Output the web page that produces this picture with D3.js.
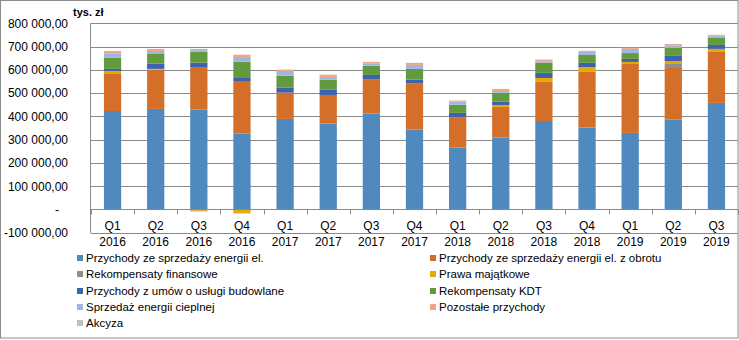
<!DOCTYPE html>
<html><head><meta charset="utf-8">
<script src="https://cdn.jsdelivr.net/npm/d3@7/dist/d3.min.js"></script>
<style>
body{margin:0;background:#fff;}
svg{display:block;font-family:"Liberation Sans",Arial,sans-serif;}
</style></head>
<body><svg id="c" width="739" height="340"></svg>
<script>
const quarters = ["Q1","Q2","Q3","Q4","Q1","Q2","Q3","Q4","Q1","Q2","Q3","Q4","Q1","Q2","Q3"];
const years = ["2016","2016","2016","2016","2017","2017","2017","2017","2018","2018","2018","2018","2019","2019","2019"];
const seriesNames = ["Przychody ze sprzedaży energii el.","Przychody ze sprzedaży energii el. z obrotu","Rekompensaty finansowe","Prawa majątkowe","Przychody z umów o usługi budowlane","Rekompensaty KDT","Sprzedaż energii cieplnej","Pozostałe przychody","Akcyza"];
const energia   = [423000,432000,429000,326000,389000,369000,412000,343000,266000,309000,380000,352000,329000,386000,458000];
const obrot     = [159000,169000,183000,226000,113000,123000,146000,198000,129000,131000,168000,239000,296000,222000,219000];
const finansowe = [0,0,0,0,0,0,0,0,0,0,0,0,0,17000,3000];
const prawa     = [13000,3000,-6000,-15000,0,0,0,0,0,9000,17000,21000,9000,13000,10000];
const budowlane = [9000,23000,19000,13000,21000,22000,20000,17000,20000,14000,22000,18000,13000,22000,17000];
const kdt       = [47000,41000,46000,70000,52000,43000,40000,46000,35000,38000,44000,34000,25000,34000,30000];
const cieplo    = [20000,13000,8000,20000,20000,12000,10000,17000,13000,8000,6000,13000,18000,10000,10000];
const pozostale = [10000,9000,5000,10000,6000,10000,6000,9000,5000,9000,7000,5000,5000,7000,4000];
const akcyza    = [-3000,-3000,-3000,-3000,-3000,-3000,-3000,-3000,-3000,-3000,-3000,-3000,-3000,-3000,-3000];
const yTicks = [-100000,0,100000,200000,300000,400000,500000,600000,700000,800000];
const colors = ["#4f89bd","#d46f2a","#8e8e8e","#e5aa00","#3e62ad","#629a3d","#9bb9df","#f0a58a","#bfbfbf"];

const valuesList = [energia,obrot,finansowe,prawa,budowlane,kdt,cieplo,pozostale,akcyza];
const keys = seriesNames;
const rows = quarters.map((q,i)=>{const r={idx:i}; keys.forEach((k,j)=>r[k]=valuesList[j][i]); return r;});

const svg = d3.select("#c");
const pL = 91, pR = 738, pT = 23.3, pB = 232.7;
const x = d3.scaleBand().domain(d3.range(quarters.length)).range([pL,pR]).padding(0);
const y = d3.scaleLinear().domain([-100000,800000]).range([pB,pT]);
const color = d3.scaleOrdinal().domain(keys).range(colors);

// border
svg.append("rect").attr("x",0.5).attr("y",0.5).attr("width",737.5).attr("height",337.5)
  .attr("fill","none").attr("stroke","#8c8c8c");

// gridlines
svg.append("g").selectAll("line").data(yTicks).join("line")
  .attr("x1",pL).attr("x2",pR).attr("y1",d=>Math.round(y(d))+0.5).attr("y2",d=>Math.round(y(d))+0.5)
  .attr("stroke","#8a8a8a").attr("stroke-width",1);

// y axis line
svg.append("line").attr("x1",pL-0.5).attr("x2",pL-0.5).attr("y1",pT).attr("y2",pB+0.5)
  .attr("stroke","#8a8a8a");

// y labels
const loc = d3.formatLocale({decimal:",",thousands:"\u00a0",grouping:[3],currency:["",""],minus:"-"});
const fmt = loc.format(",.2f");
const yAxis = d3.axisLeft(y).tickValues(yTicks).tickSize(0).tickPadding(0)
  .tickFormat(d=> d===0 ? "-" : fmt(d));
const yg = svg.append("g").attr("transform",`translate(68,0)`).call(yAxis);
yg.select(".domain").remove();
yg.selectAll("text").attr("font-size","12px").attr("fill","#000")
  .attr("font-family","'Liberation Sans',Arial,sans-serif")
  .attr("dx",d=>d===0?-9:0);

svg.append("text").attr("x",73).attr("y",16).attr("font-size","11px").attr("font-weight","bold").text("tys. zł");

// stacked bars
const stack = d3.stack().keys(keys).offset(d3.stackOffsetDiverging);
const series = stack(rows);
const bw = x.bandwidth()*0.4;
svg.append("g").selectAll("g").data(series).join("g").attr("fill",d=>color(d.key))
  .selectAll("rect").data(d=>d).join("rect")
  .attr("x",(d,i)=>x(i)+x.bandwidth()/2-bw/2)
  .attr("width",bw)
  .attr("y",d=>y(Math.max(d[0],d[1])))
  .attr("height",d=>Math.abs(y(d[0])-y(d[1])));

// category axis at zero
const y0 = Math.round(y(0))+0.5;
svg.append("line").attr("x1",pL).attr("x2",pR).attr("y1",y0).attr("y2",y0).attr("stroke","#8a8a8a");
const xg = svg.append("g");
xg.selectAll("line").data(d3.range(quarters.length+1)).join("line")
  .attr("x1",i=>Math.round(pL + i*x.step())+0.5).attr("x2",i=>Math.round(pL + i*x.step())+0.5)
  .attr("y1",y0).attr("y2",y0+5).attr("stroke","#8a8a8a");
xg.selectAll("text.q").data(quarters).join("text").attr("class","q")
  .attr("x",(d,i)=>x(i)+x.bandwidth()/2).attr("y",230).attr("text-anchor","middle")
  .attr("font-size","12px").text(d=>d);
xg.selectAll("text.yr").data(years).join("text").attr("class","yr")
  .attr("x",(d,i)=>x(i)+x.bandwidth()/2).attr("y",246).attr("text-anchor","middle")
  .attr("font-size","12px").text(d=>d);

// legend
const legendPos = [[77,258],[430,258],[77,274],[430,274],[77,291],[430,291],[77,307],[430,307],[77,323]];
const lg = svg.append("g").selectAll("g").data(keys).join("g")
  .attr("transform",(d,i)=>`translate(${legendPos[i][0]},${legendPos[i][1]})`);
lg.append("rect").attr("x",0).attr("y",-3).attr("width",6).attr("height",6).attr("fill",d=>color(d));
lg.append("text").attr("x",9).attr("y",4).attr("font-size","11.5px").text(d=>d);
</script></body></html>
